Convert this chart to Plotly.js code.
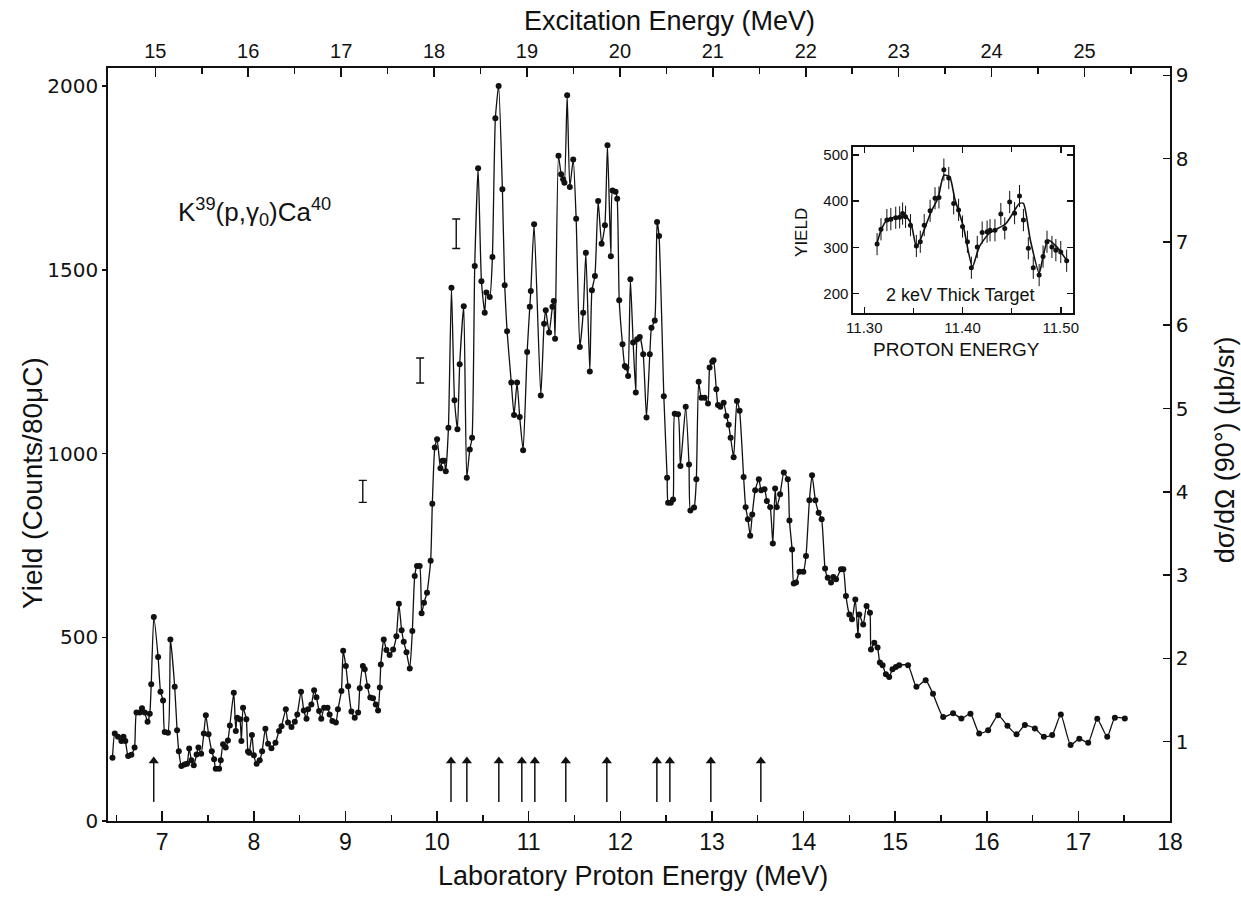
<!DOCTYPE html>
<html><head><meta charset="utf-8">
<script src="https://cdn.plot.ly/plotly-3.0.1.min.js"></script>
<style>html,body{margin:0;padding:0;background:#fff}#chart{width:1241px;height:899px}</style>
</head><body><div id="chart"></div>
<script>
// ---- main spectrum: laboratory proton energy (MeV) and yield (counts / 80 uC)
const protonEnergy = [
6.457,6.482,6.517,6.554,6.577,6.597,6.628,6.663,6.698,6.719,6.754,6.779,6.809,6.840,6.864,6.880,6.908,6.955,6.981,7.009,
7.027,7.062,7.089,7.136,7.162,7.181,7.209,7.243,7.271,7.294,7.319,7.344,7.375,7.395,7.425,7.454,7.476,7.506,7.541,7.566,
7.584,7.621,7.639,7.664,7.693,7.717,7.738,7.781,7.803,7.818,7.846,7.864,7.882,7.918,7.936,7.949,7.979,8.000,8.030,8.064,
8.090,8.126,8.155,8.192,8.236,8.275,8.302,8.349,8.373,8.411,8.447,8.474,8.515,8.545,8.575,8.592,8.628,8.658,8.683,8.712,
8.736,8.767,8.804,8.827,8.857,8.895,8.918,8.956,8.975,9.004,9.029,9.065,9.101,9.138,9.156,9.190,9.210,9.240,9.271,9.301,
9.331,9.356,9.375,9.386,9.418,9.447,9.482,9.520,9.556,9.583,9.613,9.636,9.666,9.702,9.730,9.756,9.781,9.810,9.831,9.857,
9.890,9.930,9.948,
9.975,10.000,10.037,10.059,10.077,10.095,10.124,10.157,10.190,10.222,10.247,10.291,10.324,10.357,10.382,10.411,10.448,10.484,10.520,10.538,
10.575,10.604,10.636,10.672,10.713,10.738,10.764,10.810,10.840,10.873,10.902,10.939,10.983,11.012,11.023,11.059,11.132,11.168,11.186,11.223,
11.259,11.274,11.288,11.325,11.354,11.376,11.390,11.420,11.449,11.486,11.518,11.558,11.595,11.624,11.667,11.690,11.723,11.758,11.796,11.832,
11.860,11.897,11.915,11.948,11.966,11.988,12.024,12.049,12.067,12.085,12.110,12.140,12.169,12.184,12.212,12.250,12.286,12.322,12.340,12.376,
12.401,12.423,
12.475,12.511,12.522,12.551,12.576,12.594,12.630,12.656,12.714,12.750,12.765,12.805,12.830,12.855,12.885,12.921,12.957,12.975,13.004,13.018,
13.048,13.066,13.092,13.128,13.158,13.183,13.204,13.237,13.273,13.302,13.346,13.368,13.393,13.418,13.440,13.472,13.512,13.538,13.574,13.600,
13.636,13.665,13.690,13.708,13.744,13.785,13.828,13.846,13.875,13.893,13.918,13.955,13.998,14.027,14.064,14.093,14.129,14.165,14.198,14.235,
14.264,14.300,14.325,14.355,14.409,14.434,14.463,14.500,14.529,14.565,14.594,14.608,14.651,14.688,14.725,14.736,14.772,14.808,14.833,14.863,
14.899,14.935,14.971,15.008,15.044,
15.141,15.232,15.333,15.413,15.524,15.632,15.723,15.822,15.917,16.015,16.124,16.226,16.325,16.416,16.525,16.623,16.714,16.808,16.915,17.010,
17.107,17.206,17.315,17.398,17.507
];
const yieldCounts = [
172,238,229,218,229,218,177,180,200,295,295,307,295,270,292,372,555,446,352,328,
242,240,494,365,247,190,150,154,156,197,165,152,181,200,183,238,288,236,190,168,
142,142,165,209,200,219,260,349,245,281,277,218,308,277,189,186,234,179,156,165,
190,251,210,198,213,245,258,304,268,256,270,290,352,301,278,304,317,356,337,299,
278,308,308,290,272,268,304,354,463,422,367,298,281,295,361,422,413,367,336,334,
317,301,363,426,494,465,452,467,503,591,519,488,459,415,517,667,694,694,565,594,
621,708,863,
1016,1039,960,980,980,952,1070,1451,1145,1066,1243,1401,934,1011,1043,1510,1776,1469,1383,1438,
1426,1535,1912,2000,1719,1458,1333,1193,1105,1193,1099,1009,1276,1399,1442,1624,1158,1353,1390,1329,
1399,1415,1312,1810,1760,1746,1737,1975,1725,1800,1639,1290,1383,1546,1223,1444,1483,1687,1571,1621,
1839,1537,1716,1712,1693,1417,1297,1238,1234,1211,1474,1302,1166,1311,1317,1270,1098,1270,1342,1362,
1630,1592,
1156,934,866,866,875,1108,1107,966,1127,970,845,853,930,1195,1152,1152,1136,1234,1250,1254,
1175,1132,1127,1138,1102,1078,1043,990,1143,1116,936,854,821,776,834,900,930,900,903,871,
854,755,905,854,889,948,930,818,739,646,649,678,678,721,873,941,873,839,821,687,
662,649,664,658,685,685,612,562,549,603,505,562,535,585,567,467,485,472,431,424,
399,392,413,419,424,
424,365,383,346,283,293,279,292,238,247,288,259,236,261,252,229,234,290,207,224,
213,278,229,281,279
];

// ---- representative error bars on the main spectrum
const errBarEnergy = [9.189, 9.815, 10.209];
const errBarYield  = [897, 1226, 1598];
const errBarSize   = [30, 34, 40];

// ---- arrows marking resonances (proton energy, MeV)
const arrowEnergy = [6.907, 10.152, 10.325, 10.674, 10.925, 11.067, 11.405, 11.853, 12.399, 12.541, 12.988, 13.534];
const arrowHeadYield = 163;
const arrowBaseYield = 52;

// ---- inset: 2 keV thick target scan
const insetEnergy = [11.313,11.317,11.323,11.327,11.332,11.336,11.339,11.342,11.347,11.353,11.357,11.361,11.367,11.372,11.376,11.381,11.386,11.391,11.396,11.400,
11.405,11.409,11.415,11.420,11.425,11.428,11.433,11.439,11.443,11.448,11.453,11.458,11.462,11.467,11.472,11.478,11.482,11.486,11.491,11.495,11.500,11.506];
const insetYield = [307,339,359,361,364,365,373,366,348,303,312,348,379,406,408,468,450,395,381,345,
312,256,301,332,334,337,337,372,341,398,374,411,359,298,256,240,280,312,301,294,290,271];
const insetErr = 24;
const insetFitEnergy = [11.313,11.317,11.323,11.333,11.343,11.348,11.353,11.357,11.368,11.375,11.381,11.387,11.392,11.401,11.410,11.417,11.427,11.444,11.458,11.462,11.469,11.478,11.482,11.487,11.496,11.506];
const insetFitYield  = [309,337,359,366,365,348,301,316,377,406,456,452,406,344,258,301,330,351,395,395,316,244,280,316,301,272];

// ---- axis ticks
const yieldTicks = [0, 500, 1000, 1500, 2000];
const sigmaTicks = [1, 2, 3, 4, 5, 6, 7, 8, 9];
const insetXTicks = [11.30, 11.40, 11.50];
const insetXTickText = ["11.30", "11.40", "11.50"];
const insetYTicks = [200, 300, 400, 500];

const ROUND = "DejaVu Sans, Verdana, sans-serif";
const SANS = "Liberation Sans, Arial, sans-serif";
const BLK = "#111";

// arrow shafts built from the arrow arrays (segments separated by gaps)
const shaftX = [], shaftY = [];
arrowEnergy.forEach(e => { shaftX.push(e, e, null); shaftY.push(arrowBaseYield, arrowHeadYield, null); });

const traces = [
  {x: protonEnergy, y: yieldCounts, xaxis: 'x', yaxis: 'y', mode: 'lines+markers',
   line: {color: BLK, width: 1.3, shape: 'spline', smoothing: 0.5},
   marker: {color: BLK, size: 6}, hoverinfo: 'x+y'},
  {x: errBarEnergy, y: errBarYield, xaxis: 'x', yaxis: 'y', mode: 'markers',
   marker: {size: 1, color: 'rgba(0,0,0,0)'},
   error_y: {type: 'data', array: errBarSize, visible: true, color: BLK, thickness: 1.4, width: 4}},
  {x: shaftX, y: shaftY, xaxis: 'x', yaxis: 'y', mode: 'lines', line: {color: BLK, width: 1.5}, hoverinfo: 'skip'},
  {x: arrowEnergy, y: arrowEnergy.map(() => arrowHeadYield), xaxis: 'x', yaxis: 'y', mode: 'markers',
   marker: {symbol: 'triangle-up', size: [9], color: BLK, line: {width: 0}}, hoverinfo: 'skip'},
  {x: [], y: [], xaxis: 'x2', yaxis: 'y', mode: 'markers', hoverinfo: 'skip', showlegend: false},
  {x: [], y: [], xaxis: 'x', yaxis: 'y2', mode: 'markers', hoverinfo: 'skip', showlegend: false},
  {x: insetFitEnergy, y: insetFitYield, xaxis: 'x3', yaxis: 'y3', mode: 'lines',
   line: {color: BLK, width: 1.6, shape: 'spline', smoothing: 0.6}, hoverinfo: 'skip'},
  {x: insetEnergy, y: insetYield, xaxis: 'x3', yaxis: 'y3', mode: 'markers',
   marker: {color: BLK, size: 5},
   error_y: {type: 'constant', value: insetErr, visible: true, color: BLK, thickness: 1, width: 0}}
];
traces[3].marker.size = 9;

const annotations = [
  {xref: 'paper', yref: 'paper', x: 0.494, y: -0.073, text: 'Laboratory Proton Energy (MeV)', showarrow: false,
   font: {family: SANS, size: 27, color: BLK}, xanchor: 'center', yanchor: 'middle'},
  {xref: 'paper', yref: 'paper', x: 0.529, y: 1.062, text: 'Excitation Energy (MeV)', showarrow: false,
   font: {family: SANS, size: 27, color: BLK}, xanchor: 'center', yanchor: 'middle'},
  {xref: 'paper', yref: 'paper', x: -0.0706, y: 0.449, text: 'Yield (Counts/80μC)', showarrow: false, textangle: -90,
   font: {family: SANS, size: 28, color: BLK}, xanchor: 'center', yanchor: 'middle'},
  {xref: 'paper', yref: 'paper', x: 1.052, y: 0.4927, text: 'dσ/dΩ (90°) (μb/sr)', showarrow: false, textangle: -90,
   font: {family: SANS, size: 27, color: BLK}, xanchor: 'center', yanchor: 'middle'},
  {xref: 'x', yref: 'y', x: 8.01, y: 1658, text: 'K<sup>39</sup>(p,γ<sub>0</sub>)Ca<sup>40</sup>', showarrow: false,
   font: {family: SANS, size: 26, color: BLK}, xanchor: 'center', yanchor: 'middle'},
  {xref: 'paper', yref: 'paper', x: 0.6525, y: 0.7822, text: 'YIELD', showarrow: false, textangle: -90,
   font: {family: SANS, size: 17, color: BLK}, xanchor: 'center', yanchor: 'middle'},
  {xref: 'paper', yref: 'paper', x: 0.7994, y: 0.6255, text: 'PROTON ENERGY', showarrow: false,
   font: {family: SANS, size: 19, color: BLK}, xanchor: 'center', yanchor: 'middle'},
  {xref: 'paper', yref: 'paper', x: 0.8023, y: 0.6985, text: '2 keV Thick Target', showarrow: false,
   font: {family: SANS, size: 18, color: BLK}, xanchor: 'center', yanchor: 'middle'}
];

const axisLine = {showline: true, linecolor: BLK, linewidth: 1.8, showgrid: false, zeroline: false, tickcolor: BLK, tickwidth: 1.5};

const layout = {
  width: 1241, height: 899,
  margin: {l: 108, r: 71, t: 68, b: 78, pad: 0},
  paper_bgcolor: '#fff', plot_bgcolor: 'rgba(0,0,0,0)',
  showlegend: false,
  xaxis: Object.assign({}, axisLine, {
    domain: [0, 1], anchor: 'y', range: [6.408, 18], tickmode: 'linear', tick0: 7, dtick: 1,
    ticks: 'inside', ticklen: 10,
    minor: {tick0: 0, dtick: 0.5, ticks: 'inside', ticklen: 6, tickcolor: BLK, tickwidth: 1.5},
    tickfont: {family: SANS, size: 23, color: BLK}
  }),
  xaxis2: Object.assign({}, axisLine, {
    overlaying: 'x', side: 'top', anchor: 'y', range: [14.491, 25.92], tickmode: 'linear', tick0: 15, dtick: 1,
    ticks: 'inside', ticklen: 9,
    minor: {tick0: 0, dtick: 0.5, ticks: 'inside', ticklen: 6, tickcolor: BLK, tickwidth: 1.5},
    tickfont: {family: SANS, size: 20, color: BLK}
  }),
  yaxis: Object.assign({}, axisLine, {
    domain: [0, 1], anchor: 'x', range: [0, 2049], tickmode: 'array', tickvals: yieldTicks,
    ticks: 'outside', ticklen: 4,
    tickfont: {family: ROUND, size: 20, color: BLK}
  }),
  yaxis2: Object.assign({}, axisLine, {
    overlaying: 'y', side: 'right', anchor: 'x', range: [0.048, 9.088], tickmode: 'array', tickvals: sigmaTicks,
    ticks: 'inside', ticklen: 7,
    tickfont: {family: ROUND, size: 20, color: BLK}
  }),
  xaxis3: Object.assign({}, axisLine, {
    domain: [0.7015, 0.9087], anchor: 'y3', range: [11.2885, 11.5125], tickmode: 'array',
    tickvals: insetXTicks, ticktext: insetXTickText, ticks: 'inside', ticklen: 6, mirror: 'ticks', linewidth: 1.6,
    minor: {tickvals: [11.35, 11.45], ticks: 'inside', ticklen: 5, tickcolor: BLK, tickwidth: 1.3},
    tickfont: {family: SANS, size: 15, color: BLK}
  }),
  yaxis3: Object.assign({}, axisLine, {
    domain: [0.6746, 0.8951], anchor: 'x3', range: [158, 517], tickmode: 'array', tickvals: insetYTicks,
    ticks: 'inside', ticklen: 6, mirror: 'ticks', linewidth: 1.6,
    tickfont: {family: SANS, size: 15, color: BLK}
  }),
  annotations: annotations
};

Plotly.newPlot('chart', traces, layout, {staticPlot: true, displayModeBar: false});
</script>
</body></html>
